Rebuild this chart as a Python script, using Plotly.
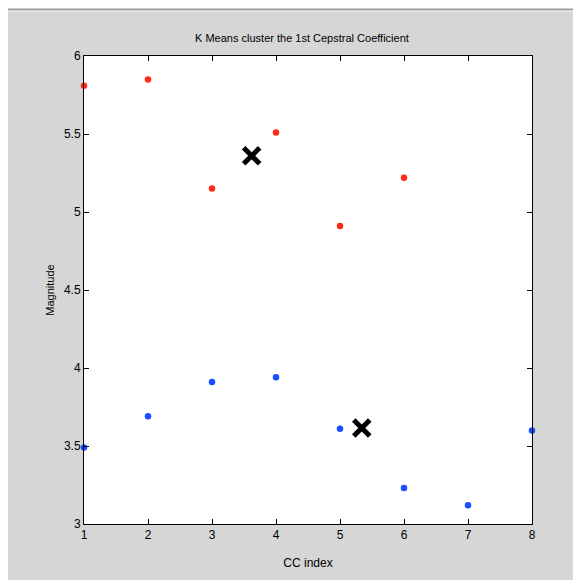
import plotly.graph_objects as go

red_x = [1, 2, 3, 4, 5, 6]
red_y = [5.81, 5.85, 5.15, 5.51, 4.91, 5.22]
blue_x = [1, 2, 3, 4, 5, 6, 7, 8]
blue_y = [3.49, 3.69, 3.91, 3.94, 3.61, 3.23, 3.12, 3.60]
cent_x = [3.62, 5.34]
cent_y = [5.36, 3.615]
x_ticks = [1, 2, 3, 4, 5, 6, 7, 8]
y_ticks = [3, 3.5, 4, 4.5, 5, 5.5, 6]

FONT = "Liberation Sans Narrow, Arial Narrow, Liberation Sans, Arial"

fig = go.Figure()
fig.add_trace(go.Scatter(x=red_x, y=red_y, mode="markers",
                         marker=dict(color="#ff2a1a", size=6.5), cliponaxis=False))
fig.add_trace(go.Scatter(x=blue_x, y=blue_y, mode="markers",
                         marker=dict(color="#1a4dff", size=6.5), cliponaxis=False))
fig.add_trace(go.Scatter(x=cent_x, y=cent_y, mode="markers",
                         marker=dict(symbol="x-thin", size=16, color="black",
                                     line=dict(color="black", width=5)), cliponaxis=False))

axis_common = dict(showgrid=False, zeroline=False, showline=True, linecolor="black",
                   linewidth=1, mirror="ticks", ticks="inside", ticklen=5,
                   tickcolor="black", tickfont=dict(family=FONT, size=12, color="black"))

L, R, T, B = 84, 41, 56, 56
W_PLOT = 573 - L - R
H_PLOT = 580 - T - B

def px(fx):
    return (fx - L) / W_PLOT

def py(fy):
    return 1 + (T - fy) / H_PLOT

fig.update_layout(
    width=573, height=580,
    margin=dict(l=L, r=R, t=T, b=B),
    paper_bgcolor="#d6d6d6",
    plot_bgcolor="white",
    showlegend=False,
    title=dict(text="K Means cluster the 1st Cepstral Coefficient",
               font=dict(family=FONT, size=11, color="black"),
               x=0.527, xanchor="center", y=1 - 38 / 580, yanchor="middle"),
    xaxis=dict(range=[1, 8], tickvals=x_ticks, **axis_common,
               title=dict(text="CC index", font=dict(family=FONT, size=12, color="black"), standoff=17)),
    yaxis=dict(range=[3, 6], tickvals=y_ticks, **axis_common,
               title=dict(text="Magnitude", font=dict(family=FONT, size=11, color="black"), standoff=7)),
    shapes=[
        dict(type="rect", xref="paper", yref="paper", x0=px(-5), x1=px(580),
             y0=py(9), y1=py(-5), fillcolor="white", line=dict(width=0), layer="above"),
        dict(type="rect", xref="paper", yref="paper", x0=px(-5), x1=px(8),
             y0=py(585), y1=py(-5), fillcolor="white", line=dict(width=0), layer="above"),
        dict(type="line", xref="paper", yref="paper", x0=px(8), x1=px(580),
             y0=py(9.5), y1=py(9.5), line=dict(color="#999999", width=2)),
        dict(type="line", xref="paper", yref="paper", x0=px(8), x1=px(580),
             y0=py(11), y1=py(11), line=dict(color="#f4f4f4", width=1)),
    ],
)

fig.write_html("out.html", config={"displayModeBar": False},
               post_script="document.body.style.margin='0';document.body.style.overflow='hidden';")
